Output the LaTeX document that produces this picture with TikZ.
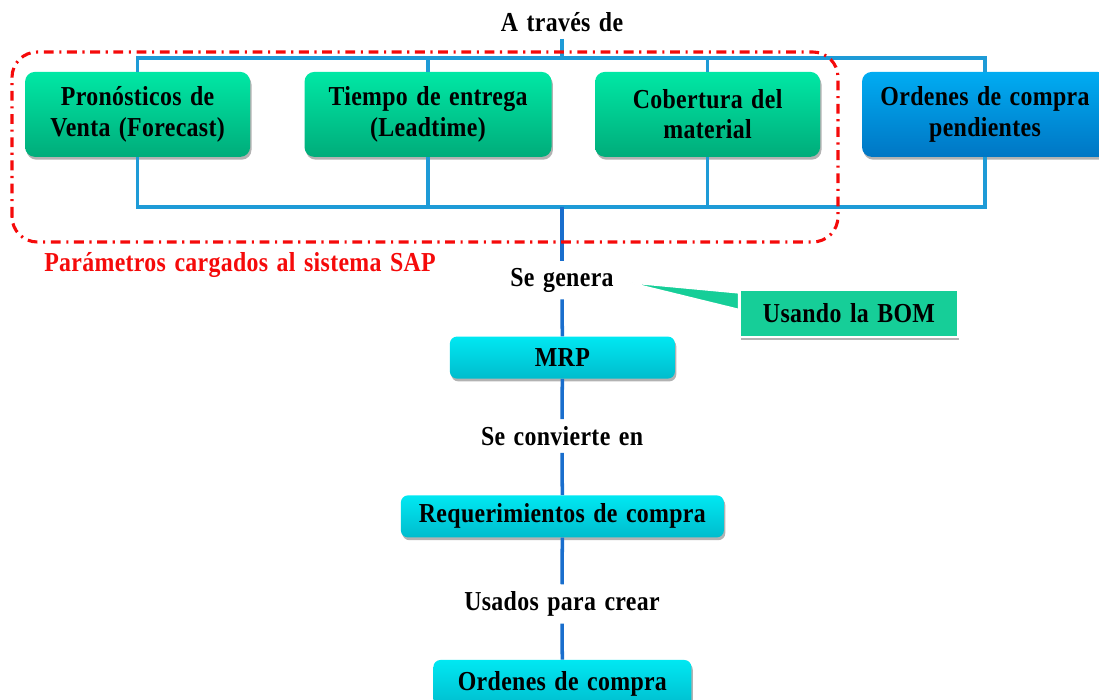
\documentclass[tikz,border=0pt]{standalone}
\usepackage{fontspec}
\setmainfont[FakeStretch=0.87,WordSpace=1.35,LetterSpace=1.2]{Liberation Serif}
\usetikzlibrary{shadows}

\definecolor{verdeA}{RGB}{0,232,165}
\definecolor{verdeB}{RGB}{0,172,122}
\definecolor{azulA}{RGB}{0,172,242}
\definecolor{azulB}{RGB}{0,118,196}
\definecolor{cianA}{RGB}{0,232,242}
\definecolor{cianB}{RGB}{0,188,205}
\definecolor{linea}{RGB}{30,155,215}
\definecolor{lineaC}{RGB}{25,110,205}
\definecolor{rojo}{RGB}{245,10,10}
\definecolor{bomverde}{RGB}{22,206,152}

\begin{document}
\begin{tikzpicture}
		[font=\fontsize{19.5}{21.5}\selectfont\bfseries,
		sombra/.style={drop shadow={shadow xshift=1pt,shadow yshift=-2pt,opacity=.3,fill=black}},
		caja/.style={sombra,rounded corners=7pt,top color=verdeA,bottom color=verdeB,align=center,minimum width=5.625cm,minimum height=2.125cm},
		cajaazul/.style={caja,top color=azulA,bottom color=azulB,minimum width=6.15cm},
		paso/.style={sombra,rounded corners=5pt,top color=cianA,bottom color=cianB,minimum height=1.05cm},
		texto/.style={inner sep=5pt},
		bus/.style={draw=linea,line width=2.2pt},
		eje/.style={draw=lineaC,line width=2.5pt}]
		\useasboundingbox (0,0) rectangle (27.475,17.5);

		\node[texto] (atraves) at (14.05,16.95) {A través de};
		\node[caja] (pron) at (3.44,14.64) {Pronósticos de\\Venta (Forecast)};
		\node[caja,minimum width=6.175cm] (tiempo) at (10.7,14.64) {Tiempo de entrega\\(Leadtime)};
		\node[caja] (cober) at (17.69,14.64) {Cobertura del\\material};
		\node[cajaazul] (pend) at (24.625,14.64) {Ordenes de compra\\pendientes};
		\coordinate (tb) at (14.05,16.05);
		\coordinate (bb) at (14.05,12.325);

		\node[texto] (segenera) at (14.05,10.5) {Se genera};
		\node[paso,minimum width=5.625cm] (mrp) at (14.06,8.56) {MRP};
		\node[texto] (seconv) at (14.05,6.6) {Se convierte en};
		\node[paso,minimum width=8.075cm] (req) at (14.06,4.59) {Requerimientos de compra};
		\node[texto] (usados) at (14.05,2.4) {Usados para crear};
		\node[paso,minimum width=6.45cm,minimum height=1.2cm] (ordenes) at (14.06,0.4) {Ordenes de compra};

		% buses arriba y abajo
		\draw[bus] (pron.north) |- (tb) -| (pend.north);
		\draw[bus] (pron.south) |- (bb) -| (pend.south);
		\foreach \caja in {tiempo,cober}
		{
		\draw[bus] (\caja.north) -- (\caja.north |- tb);
		\draw[bus] (\caja.south) -- (\caja.south |- bb);
		}
		\draw[bus] (atraves) -- (tb);

		\foreach \from/\to in {bb/segenera,segenera/mrp,mrp/seconv,seconv/req,req/usados,usados/ordenes}
		\draw[eje] (\from) -- (\to);

		% parametros SAP
		\draw[rojo,line width=2.2pt,rounded corners=18pt,dash pattern=on 7pt off 4pt on 1.5pt off 4pt] (0.3,11.45) rectangle (20.95,16.2);
		\node[rojo,anchor=west,inner sep=0pt] (sap) at (1.1,10.875) {Parámetros cargados al sistema SAP};

		% llamada BOM
		\node[sombra,fill=bomverde,draw=white,line width=2pt,minimum width=5.45cm,minimum height=1.175cm] (bom) at (21.225,9.66) {Usando la BOM};
		\coordinate (punta) at (15.75,10.43);
		\fill[bomverde,draw=white,line width=1pt] (punta) -- ([yshift=-3pt]bom.north west) -- ([yshift=3pt]bom.west) -- cycle;
		\end{tikzpicture}
\end{document}
